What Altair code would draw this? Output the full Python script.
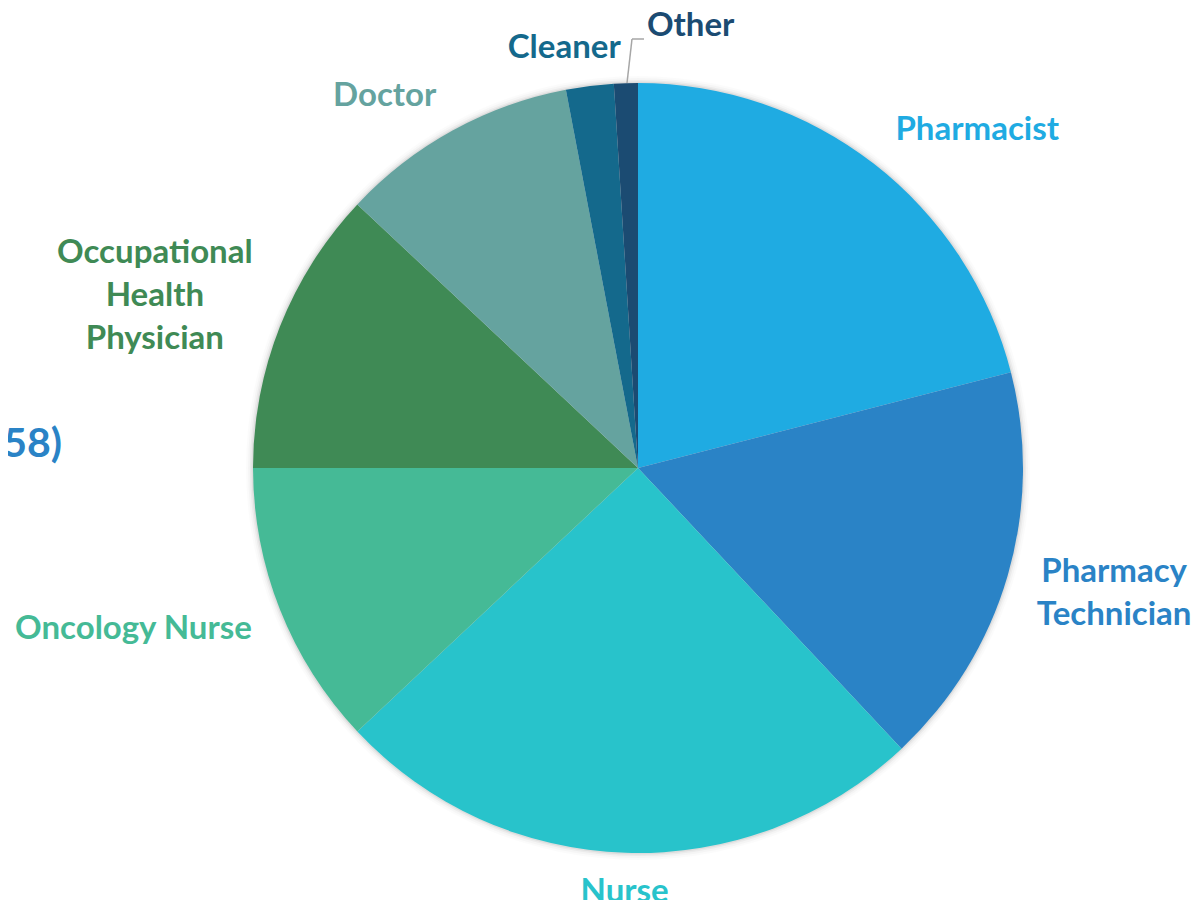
import altair as alt
import pandas as pd

categories = ["Pharmacist", "Pharmacy Technician", "Nurse", "Oncology Nurse",
              "Occupational Health Physician", "Doctor", "Cleaner", "Other"]
values = [21, 17, 25, 12, 12, 10, 2, 1]
labels = ["Pharmacist", "Pharmacy\nTechnician", "Nurse", "Oncology Nurse",
          "Occupational\nHealth\nPhysician", "Doctor", "Cleaner", "Other"]
colors = ["#1FABE2", "#2A83C6", "#28C3CB", "#45BA96",
          "#3F8A55", "#65A39F", "#14698C", "#1B4B72"]

df = pd.DataFrame({"idx": list(range(len(categories))), "category": categories,
                   "value": values, "label": labels})

CX, CY, R = 630, 460, 385
FONT = "Lato"
FS = 33

color_scale = alt.Scale(domain=categories, range=colors)
theta_scale = alt.Scale(domain=[0, 100])

base = alt.Chart(df)
one = base.transform_filter("datum.idx == 0")

# soft shadow around the pie
shadow = alt.layer(*[
    one.mark_arc(outerRadius=R + d, theta=0, theta2=6.2832, color="#000000", opacity=op)
    .encode(x=alt.value(CX), y=alt.value(CY))
    for d, op in [(7, 0.015), (5, 0.025), (3, 0.04), (1.5, 0.06)]
])

pie = base.mark_arc(outerRadius=R).encode(
    theta=alt.Theta("value:Q", scale=theta_scale, stack=True),
    color=alt.Color("category:N", scale=color_scale, legend=None),
    order=alt.Order("idx:Q"),
    x=alt.value(CX), y=alt.value(CY),
)


def label_layer(cats, align, radius=425, dx=0, dy=0):
    return base.transform_window(
        cum="sum(value)", sort=[alt.SortField("idx", order="ascending")]
    ).transform_calculate(
        mid="datum.cum - datum.value / 2"
    ).transform_filter(
        alt.FieldOneOfPredicate(field="category", oneOf=cats)
    ).mark_text(
        radius=radius, align=align, baseline="middle", font=FONT, fontWeight="bold",
        fontSize=FS, lineBreak="\n", lineHeight=43, dx=dx, dy=dy,
    ).encode(
        theta=alt.Theta("mid:Q", scale=theta_scale, stack=None),
        text="label:N",
        color=alt.Color("category:N", scale=color_scale, legend=None),
        x=alt.value(CX), y=alt.value(CY),
    )


lab_pharm = label_layer(["Pharmacist"], "left", dx=-3, dy=-2)
lab_tech = label_layer(["Pharmacy Technician"], "center", dx=68, dy=-15)
lab_nurse = label_layer(["Nurse"], "center", dy=-1)
lab_onc = label_layer(["Oncology Nurse"], "right", dx=9, dy=5)
lab_ohp = label_layer(["Occupational Health Physician"], "center", dx=-88, dy=-59)
lab_doc = label_layer(["Doctor"], "right", dx=3)
lab_cleaner = label_layer(["Cleaner"], "right", dx=36, dy=2)
lab_other = label_layer(["Other"], "left", radius=447, dx=23, dy=5)

leader1 = one.mark_rule(color="#A6A6A6", strokeWidth=1.5).encode(
    x=alt.value(619), y=alt.value(75), x2=alt.value(624), y2=alt.value(31))
leader2 = one.mark_rule(color="#A6A6A6", strokeWidth=1.5).encode(
    x=alt.value(624), y=alt.value(31), x2=alt.value(636), y2=alt.value(31))

cut_title = one.mark_text(
    text="58)", align="right", baseline="middle", font=FONT, fontWeight="bold",
    fontSize=41, color="#2A83C6").encode(x=alt.value(54), y=alt.value(437))

chart = alt.layer(
    shadow, pie, leader1, leader2, lab_pharm, lab_tech, lab_nurse, lab_onc, lab_ohp,
    lab_doc, lab_cleaner, lab_other, cut_title
).properties(
    width=1185, height=892, padding=0, autosize=alt.AutoSizeParams(type="none")
).configure_view(stroke=None)

chart.save("out.html", embed_options={"renderer": "svg", "actions": False})
